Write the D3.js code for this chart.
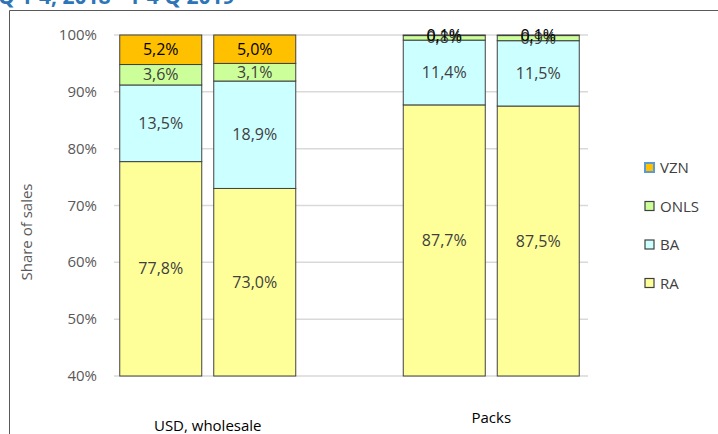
<!DOCTYPE html>
<html lang="en">
<head>
<meta charset="UTF-8">
<title>Share of sales</title>
<style>
body { margin: 0; background: #fff; }
svg { display: block; font-family: "Open Sans", sans-serif; }
.grid line { stroke: #d9d9d9; stroke-width: 1.5px; }
.tick-label { fill: #595959; font-size: 15px; }
.seg { stroke: #404040; stroke-width: 1px; }
.lbl { font-size: 16px; text-anchor: middle; }
.legend text { font-size: 15px; fill: #404040; }
.cat { font-size: 15px; fill: #000; text-anchor: middle; }
</style>
</head>
<body>
<svg width="718" height="434"></svg>
<script src="https://d3js.org/d3.v7.min.js"></script>
<script>
// data
const groups = ["USD, wholesale", "Packs"];
const periods = ["2018", "2019"];
const seriesNames = ["RA", "BA", "ONLS", "VZN"];
const RA   = [77.8, 73.0, 87.7, 87.5];
const BA   = [13.5, 18.9, 11.4, 11.5];
const ONLS = [3.6, 3.1, 0.8, 0.9];
const VZN  = [5.2, 5.0, 0.1, 0.1];
const yTicks = [0.4, 0.5, 0.6, 0.7, 0.8, 0.9, 1.0];

const colors = { RA: "#ffff99", BA: "#ccffff", ONLS: "#ccff99", VZN: "#ffc000" };
const strokes = { RA: "#404040", BA: "#404040", ONLS: "#404040", VZN: "#5b9bd5" };

// one row per bar
const rows = [];
groups.forEach((g, gi) => periods.forEach((p, pi) => {
    const i = gi * periods.length + pi;
    rows.push({ group: g, period: p, RA: RA[i], BA: BA[i], ONLS: ONLS[i], VZN: VZN[i] });
}));

const stacked = d3.stack().keys(seriesNames).offset(d3.stackOffsetExpand)(rows);

const svg = d3.select("svg");

// title, cut off at the top
svg.append("text")
    .attr("x", -2).attr("y", 4)
    .attr("fill", "#2e75b6")
    .attr("font-weight", "bold")
    .attr("font-size", "21px")
    .text("Q 1-4, 2018 - 1-4 Q 2019");

// frame
svg.append("path")
    .attr("d", "M9.5,434V10.5H718")
    .attr("fill", "none")
    .attr("stroke", "#595959")
    .attr("stroke-width", 1);

const y = d3.scaleLinear().domain([0.4, 1]).range([376, 35]);
const x0 = d3.scaleBand().domain(groups).range([66, 633]);
const x1 = d3.scaleBand().domain(periods)
    .range([-94, 94]).paddingInner(12 / 94).paddingOuter(6 / 94);
const barX = d => x0(d.data.group) + x0.bandwidth() / 2 + x1(d.data.period);

// grid
svg.append("g").attr("class", "grid")
    .selectAll("line").data(yTicks).enter().append("line")
    .attr("x1", 114).attr("x2", 588)
    .attr("y1", d => y(d)).attr("y2", d => y(d));

svg.append("g")
    .selectAll("text").data(yTicks).enter().append("text")
    .attr("class", "tick-label")
    .attr("x", 97).attr("y", d => y(d) + 5)
    .attr("text-anchor", "end")
    .text(d3.format(".0%"));

svg.append("text")
    .attr("transform", "translate(32,232) rotate(-90)")
    .attr("text-anchor", "middle")
    .attr("fill", "#595959")
    .attr("font-size", "15px")
    .text("Share of sales");

// bars
const layer = svg.append("g").selectAll("g").data(stacked).enter().append("g");
layer.selectAll("rect").data(s => s.map(d => Object.assign(d, { key: s.key }))).enter().append("rect")
    .attr("class", "seg")
    .attr("x", barX)
    .attr("width", x1.bandwidth())
    .attr("y", d => y(Math.min(1, d[1])))
    .attr("height", d => y(Math.max(0.4, d[0])) - y(Math.min(1, d[1])))
    .attr("fill", d => colors[d.key])
    .attr("stroke", d => strokes[d.key])
    .attr("stroke-width", d => d.key === "VZN" ? 1.5 : 1);

// labels
const fmt = v => d3.format(".1f")(v).replace(".", ",") + "%";
layer.selectAll("text").data(s => s).enter().append("text")
    .attr("class", "lbl")
    .attr("x", d => barX(d) + x1.bandwidth() / 2)
    .attr("y", d => {
        const mid = (y(Math.max(0.4, d[0])) + y(Math.min(1, d[1]))) / 2;
        return Math.max(mid, 33) + 5.5;
    })
    .attr("fill", d => d.key === "VZN" ? "#000" : "#404040")
    .text(d => fmt(d.data[d.key]));

// category labels
svg.append("g").selectAll("text").data(groups).enter().append("text")
    .attr("class", "cat")
    .attr("x", d => x0(d) + x0.bandwidth() / 2)
    .attr("y", (d, i) => i === 0 ? 431 : 423)
    .text(d => d);

// legend
const legend = svg.append("g").attr("class", "legend")
    .selectAll("g").data(seriesNames.slice().reverse()).enter().append("g")
    .attr("transform", (d, i) => `translate(645,${163 + i * 38.5})`);
legend.append("rect")
    .attr("width", 9).attr("height", 9)
    .attr("fill", d => colors[d])
    .attr("stroke", d => d === "VZN" ? "#5b9bd5" : "#404040")
    .attr("stroke-width", d => d === "VZN" ? 2 : 1.2);
legend.append("text")
    .attr("x", 15).attr("y", 10)
    .text(d => d);
</script>
</body>
</html>
